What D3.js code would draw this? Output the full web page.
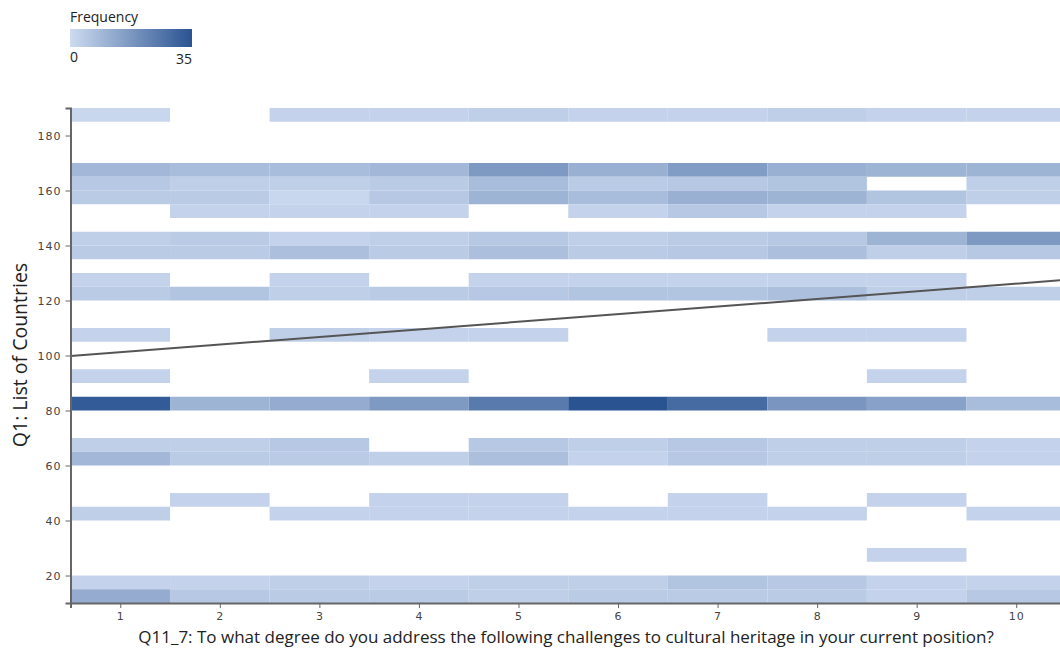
<!DOCTYPE html>
<html>
<head>
<meta charset="utf-8">
<script src="https://cdn.jsdelivr.net/npm/d3@7"></script>
<style>
  body { margin: 0; background: #fff; overflow: hidden; }
  text { font-family: "Open Sans", sans-serif; }
  .tick text { font-family: "DejaVu Sans", sans-serif; font-size: 11px; fill: #444; letter-spacing: 1px; }
  .tick line, .domain { stroke: #666; }
</style>
</head>
<body>
<div id="chart"></div>
<script>
// answer levels on x, country code bins (lower edge, width 5) on y
const answers = [1, 2, 3, 4, 5, 6, 7, 8, 9, 10];
const bins = [185, 165, 160, 155, 150, 140, 135, 125, 120, 105, 90, 80, 65, 60, 45, 40, 25, 15, 10];
// counts per bin, one column per answer level (0 = no cell)
const counts = [
  [1, 0, 2, 2, 3, 2, 2, 3, 2, 2],        // 185
  [9, 8, 8, 9, 17, 11, 16, 11, 10, 10],  // 165
  [5, 3, 3, 4, 8, 4, 5, 6, 0, 3],        // 160
  [4, 4, 1, 5, 10, 8, 11, 10, 6, 3],     // 155
  [0, 2, 2, 2, 0, 2, 5, 2, 2, 0],        // 150
  [3, 4, 2, 3, 5, 3, 4, 5, 10, 17],      // 140
  [4, 4, 7, 4, 7, 4, 5, 7, 3, 5],        // 135
  [2, 0, 2, 0, 2, 2, 2, 2, 2, 0],        // 125
  [4, 6, 3, 4, 5, 6, 6, 7, 3, 3],        // 120
  [2, 0, 3, 2, 2, 0, 0, 2, 2, 0],        // 105
  [2, 0, 0, 2, 0, 0, 0, 0, 2, 0],        // 90
  [33, 10, 12, 17, 25, 35, 29, 18, 15, 8], // 80
  [3, 3, 5, 0, 5, 3, 5, 3, 3, 2],        // 65
  [9, 4, 4, 3, 7, 2, 5, 3, 3, 2],        // 60
  [0, 2, 0, 2, 2, 0, 2, 0, 2, 0],        // 45
  [3, 0, 2, 2, 2, 2, 2, 2, 0, 2],        // 40
  [0, 0, 0, 0, 0, 0, 0, 0, 2, 0],        // 25
  [2, 2, 3, 2, 3, 3, 6, 5, 2, 2],        // 15
  [12, 5, 4, 4, 3, 4, 4, 4, 2, 5]        // 10
];
const binWidth = 5;
const xTicks = [1, 2, 3, 4, 5, 6, 7, 8, 9, 10];
const yTicks = [20, 40, 60, 80, 100, 120, 140, 160, 180];
// regression line end points (answer, country code)
const trend = [[0.5, 99.8], [10.5, 127.5]];
const legendDomain = [0, 35];

const width = 1060, height = 652;
const svg = d3.select("#chart").append("svg")
  .attr("width", width)
  .attr("height", height);

const x = d3.scaleLinear().domain([0.5, 10.5]).range([70.5, 1066]);
const y = d3.scaleLinear().domain([10, 190]).range([603, 108]);
const color = d3.scaleLinear().domain(legendDomain).range(["#cddbf0", "#2a5392"]);

const cells = [];
bins.forEach((b, i) => {
  answers.forEach((a, j) => {
    if (counts[i][j] > 0) cells.push({ a: a, b: b, v: counts[i][j] });
  });
});

svg.append("g").selectAll("rect")
  .data(cells)
  .join("rect")
  .attr("x", d => x(d.a - 0.5))
  .attr("y", d => y(d.b + binWidth))
  .attr("width", d => x(d.a + 0.5) - x(d.a - 0.5))
  .attr("height", d => y(d.b) - y(d.b + binWidth))
  .attr("fill", d => color(d.v));

// trend line
svg.append("path")
  .datum(trend)
  .attr("fill", "none")
  .attr("stroke", "#555")
  .attr("stroke-width", 2)
  .attr("d", d3.line().x(d => x(d[0])).y(d => y(d[1])));

// axes
const xAxis = svg.append("g")
  .attr("transform", `translate(0,${y(10)})`)
  .call(d3.axisBottom(x).tickValues(xTicks).tickSize(5).tickPadding(4));
const yAxis = svg.append("g")
  .attr("transform", `translate(${x(0.5)},0)`)
  .call(d3.axisLeft(y).tickValues(yTicks).tickSize(5).tickPadding(4));
[xAxis, yAxis].forEach(g => g.select(".domain").attr("stroke-width", 2));

svg.append("text")
  .attr("x", 566)
  .attr("y", 643)
  .attr("text-anchor", "middle")
  .attr("font-size", 17)
  .attr("fill", "#222")
  .text("Q11_7: To what degree do you address the following challenges to cultural heritage in your current position?");

svg.append("text")
  .attr("transform", "translate(27,355) rotate(-90)")
  .attr("text-anchor", "middle")
  .attr("font-size", 19.5)
  .attr("fill", "#222")
  .text("Q1: List of Countries");

// colour legend
const defs = svg.append("defs");
const grad = defs.append("linearGradient").attr("id", "lg");
grad.selectAll("stop")
  .data(legendDomain)
  .join("stop")
  .attr("offset", (d, i) => i * 100 + "%")
  .attr("stop-color", d => color(d));

const legend = svg.append("g").attr("transform", "translate(70,29)");
legend.append("text")
  .attr("x", 0).attr("y", -7)
  .attr("font-size", 14)
  .attr("fill", "#222")
  .text("Frequency");
legend.append("rect")
  .attr("width", 122).attr("height", 18)
  .attr("fill", "url(#lg)");
legend.append("text")
  .attr("x", 0).attr("y", 33)
  .attr("font-size", 14)
  .attr("fill", "#222")
  .text(legendDomain[0]);
legend.append("text")
  .attr("x", 122).attr("y", 35)
  .attr("text-anchor", "end")
  .attr("font-size", 14)
  .attr("fill", "#222")
  .text(legendDomain[1]);
</script>
</body>
</html>
